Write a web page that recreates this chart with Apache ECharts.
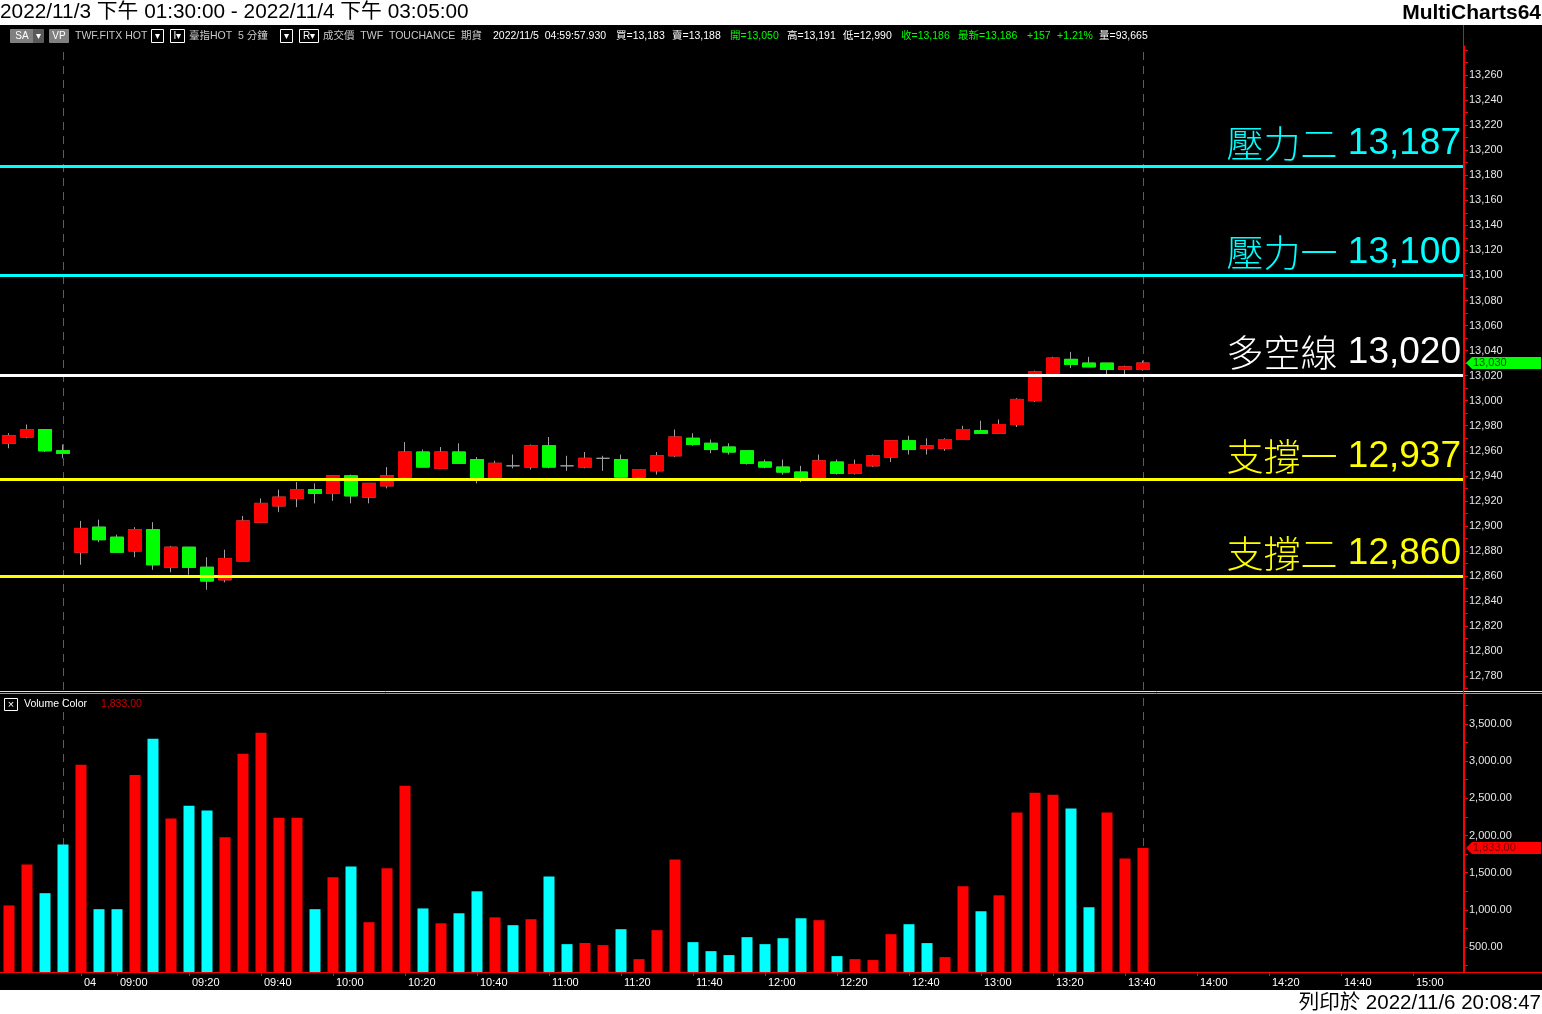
<!DOCTYPE html>
<html>
<head>
<meta charset="utf-8">
<script src="https://cdn.jsdelivr.net/npm/echarts@6/dist/echarts.min.js"></script>
<style>
html,body{margin:0;padding:0;background:#000;}
#c{width:1542px;height:1014px;}
</style>
</head>
<body>
<div id="c"></div>
<script>
// ---------------- DATA ----------------
// 5-minute bars, index = bar slot (0..3 : 2022/11/3 session end, 4.. : 2022/11/4)
const opens  = [12966,12971,12977,12960,12879,12899,12891,12880,12897,12867,12883,12867,12857,12872,12903,12916,12922,12929,12926,12940,12923,12932,12939,12959,12946,12959,12953,12938,12948,12947,12964,12948,12947,12954,12953,12939,12944,12956,12970,12966,12963,12960,12951,12947,12943,12937,12951,12942,12948,12955,12968,12962,12962,12969,12976,12974,12981,13000,13021,13033,13030,13030,13025,13025];
const closes = [12972,12977,12960,12958,12898,12889,12879,12897,12869,12883,12867,12856,12874,12904,12918,12923,12929,12926,12940,12924,12934,12940,12959,12947,12959,12950,12938,12950,12948,12964,12947,12948,12954,12954,12939,12945,12956,12971,12965,12961,12959,12950,12947,12943,12937,12952,12942,12949,12956,12968,12961,12964,12969,12977,12974,12981,13001,13023,13034,13029,13027,13025,13027,13030];
const lows   = [12962,12970,12959,12954,12869,12887,12879,12875,12865,12863,12861,12849,12855,12872,12903,12911,12915,12918,12920,12918,12918,12930,12938,12947,12946,12950,12934,12937,12946,12945,12946,12944,12946,12944,12937,12938,12941,12955,12964,12958,12957,12949,12946,12941,12935,12936,12941,12941,12947,12951,12957,12957,12960,12969,12974,12974,12979,12999,13021,13026,13027,13020,13020,13024];
const highs  = [12974,12981,12977,12965,12904,12905,12893,12899,12903,12884,12883,12875,12881,12908,12922,12929,12935,12934,12940,12941,12934,12947,12967,12961,12963,12966,12955,12952,12957,12965,12971,12956,12959,12956,12957,12945,12959,12977,12974,12969,12966,12960,12953,12953,12948,12957,12953,12953,12957,12968,12972,12970,12970,12980,12984,12985,13002,13024,13035,13039,13035,13030,13028,13032];
const volumes = [1060,1610,1225,1880,2950,1010,1010,2815,3300,2230,2400,2335,1975,3100,3380,2240,2240,1010,1440,1585,835,1560,2670,1020,820,955,1250,900,795,875,1450,540,555,527,741,339,728,1679,567,446,393,634,540,620,888,862,379,339,326,674,808,554,366,1317,982,1196,2308,2576,2549,2362,1036,2308,1692,1833];
// 1 = up volume (red), 0 = down volume (cyan)
const volumeUp = [1,1,0,0,1,0,0,1,0,1,0,0,1,1,1,1,1,0,1,0,1,1,1,0,1,0,0,1,0,1,0,0,1,1,0,1,1,1,0,0,0,0,0,0,0,1,0,1,1,1,0,0,1,1,0,1,1,1,1,0,0,1,1,1];
// session breaks (bar slot index)
const sessionBreaks = [3, 63];
// support / resistance levels
const levelNames  = ['壓力二','壓力一','多空線','支撐一','支撐二'];
const levelValues = [13187, 13100, 13020, 12937, 12860];
const levelKinds  = ['res','res','pivot','sup','sup'];
// axis ticks
const priceTicks  = [12780,12800,12820,12840,12860,12880,12900,12920,12940,12960,12980,13000,13020,13040,13060,13080,13100,13120,13140,13160,13180,13200,13220,13240,13260];
const volumeTicks = [500,1000,1500,2000,2500,3000,3500];
const timeTickSlots = [4,6,10,14,18,22,26,30,34,38,42,46,50,54,58,62,66,70,74,78];
const timeLabels = ['04','09:00','09:20','09:40','10:00','10:20','10:40','11:00','11:20','11:40','12:00','12:20','12:40','13:00','13:20','13:40','14:00','14:20','14:40','15:00'];
// texts
const titleText = '2022/11/3 下午 01:30:00 - 2022/11/4 下午 03:05:00';
const brandText = 'MultiCharts64';
const printText = '列印於 2022/11/6 20:08:47';
const volumeTitle = 'Volume Color';

// ---------------- CHART ----------------
const RED = '#ff0000', GREEN = '#00ff00', CYAN = '#00ffff', WICK = '#a0a0a0';
const NUM = '"Liberation Sans", Arial, sans-serif';
const CJK = '"Liberation Sans", "Noto Sans CJK TC", sans-serif';
const fmtInt = v => Math.round(v).toLocaleString('en-US');
const fmt2 = v => v.toLocaleString('en-US', {minimumFractionDigits: 2, maximumFractionDigits: 2});

const X_MIN = -0.5, X_MAX = -0.5 + 1464 / 18;
const P_MIN = 12768.2, P_MAX = 13283.2;
const V_MIN = 165.6, V_MAX = 3902;

const wickData = opens.map((o, i) => [i, o, closes[i], lows[i], highs[i]]);
const bodyData = opens.map((o, i) => [i, o, closes[i], Math.min(o, closes[i]), Math.max(o, closes[i])])
                      .filter(d => d[1] !== d[2]);
const volData = volumes.map((v, i) => ({value: [i, v], itemStyle: {color: volumeUp[i] ? RED : CYAN}}));

const levelColor = k => k === 'res' ? CYAN : (k === 'pivot' ? '#ffffff' : '#ffff00');
const levelLines = levelValues.map((v, i) => {
  const col = levelColor(levelKinds[i]);
  return {
    yAxis: v,
    lineStyle: {color: col, width: 3, type: 'solid'},
    label: {
      show: true, position: 'insideEndTop', distance: [3, 4],
      formatter: '{c|' + levelNames[i] + '}{n| ' + fmtInt(v) + '}',
      rich: {
        c: {color: col, fontSize: 37, fontWeight: 300, fontFamily: '"Noto Sans CJK TC", sans-serif'},
        n: {color: col, fontSize: 37, fontFamily: NUM}
      }
    }
  };
});
const breakLines = sessionBreaks.map(s => ({xAxis: s}));
const breakMark = {
  silent: true, symbol: ['none', 'none'], z: 1, animation: false,
  lineStyle: {color: '#5c5c5c', width: 1, type: [8, 6]},
  label: {show: false},
  data: breakLines
};

const priceMinor = [];
for (let v = 12770; v <= 13280; v += 10) priceMinor.push(v);
const volMinor = [];
for (let v = 250; v <= 3750; v += 250) volMinor.push(v);

const option = {
  backgroundColor: '#000',
  animation: false,
  grid: [
    {left: 0, top: 46, width: 1464, height: 644},
    {left: 0, top: 694, width: 1464, height: 278}
  ],
  xAxis: [
    {type: 'value', gridIndex: 0, min: X_MIN, max: X_MAX, show: false},
    {type: 'value', gridIndex: 1, min: X_MIN, max: X_MAX,
     axisLine: {show: true, onZero: false, lineStyle: {color: RED, width: 1}},
     axisTick: {show: true, customValues: timeTickSlots, length: 4, lineStyle: {color: RED}},
     axisLabel: {show: true, customValues: timeTickSlots,
       formatter: v => timeLabels[timeTickSlots.indexOf(Math.round(v))] || '',
       color: '#ffffff', fontSize: 11, fontFamily: NUM, align: 'left', margin: 5, padding: [0, 0, 0, 3]},
     splitLine: {show: false}}
  ],
  yAxis: [
    {type: 'value', gridIndex: 0, position: 'right', min: 12769, max: P_MAX,
     axisLine: {show: true, onZero: false, lineStyle: {color: RED}},
     axisTick: {show: true, customValues: priceMinor, length: 4, lineStyle: {color: RED}},
     axisLabel: {show: true, customValues: priceTicks, formatter: v => fmtInt(v),
       color: '#e6e6e6', fontSize: 11, fontFamily: NUM, margin: 5},
     splitLine: {show: false}},
    {type: 'value', gridIndex: 1, position: 'right', min: V_MIN, max: V_MAX,
     axisLine: {show: true, onZero: false, lineStyle: {color: RED}},
     axisTick: {show: true, customValues: volMinor, length: 4, lineStyle: {color: RED}},
     axisLabel: {show: true, customValues: volumeTicks, formatter: v => fmt2(v),
       color: '#e6e6e6', fontSize: 11, fontFamily: NUM, margin: 5},
     splitLine: {show: false}}
  ],
  series: [
    {type: 'scatter', xAxisIndex: 0, yAxisIndex: 0, data: [], z: 1, markLine: breakMark},
    {type: 'scatter', xAxisIndex: 1, yAxisIndex: 1, data: [], z: 1, markLine: breakMark},
    {type: 'candlestick', name: 'wick', xAxisIndex: 0, yAxisIndex: 0, barWidth: 13,
     encode: {x: 0, y: [1, 2, 3, 4]}, data: wickData,
     itemStyle: {color: WICK, color0: WICK, borderColor: WICK, borderColor0: WICK, borderWidth: 1}},
    {type: 'candlestick', name: 'body', xAxisIndex: 0, yAxisIndex: 0, barWidth: 13,
     encode: {x: 0, y: [1, 2, 3, 4]}, data: bodyData,
     itemStyle: {color: RED, color0: GREEN, borderColor: RED, borderColor0: GREEN, borderWidth: 1},
     markLine: {silent: true, symbol: ['none', 'none'], z: 5, animation: false, data: levelLines}},
    {type: 'bar', name: 'volume', xAxisIndex: 1, yAxisIndex: 1, barWidth: 11, clip: true,
     data: volData}
  ]
};

const chart = echarts.init(document.getElementById('c'), null, {renderer: 'canvas'});
chart.setOption(option);

// ------------- decorations / texts -------------
const g = [];
g.push({type: 'rect', shape: {x: 0, y: 0, width: 1542, height: 25}, style: {fill: '#ffffff'}, z: 10});
g.push({type: 'rect', shape: {x: 0, y: 990, width: 1542, height: 24}, style: {fill: '#ffffff'}, z: 10});
g.push({type: 'text', x: 0, y: 12.5, z: 11, style: {text: titleText, fill: '#000', font: '20.8px ' + CJK, textVerticalAlign: 'middle'}});
g.push({type: 'text', x: 1541, y: 13, z: 11, style: {text: brandText, fill: '#000', font: 'bold 21px ' + NUM, textAlign: 'right', textVerticalAlign: 'middle'}});
g.push({type: 'text', x: 1541, y: 1003, z: 11, style: {text: printText, fill: '#000', font: '20.5px ' + CJK, textAlign: 'right', textVerticalAlign: 'middle'}});

// header bar
const HY = 36;
const boxes = [
  {x: 10, w: 23, t: 'SA', fill: '#808080'}, {x: 33, w: 10, t: '▾', fill: '#5a5a5a'},
  {x: 49, w: 19, t: 'VP', fill: '#808080'},
  {x: 151, w: 12, t: '▾', stroke: '#ffffff'}, {x: 170, w: 14, t: 'I▾', stroke: '#ffffff'},
  {x: 280, w: 12, t: '▾', stroke: '#ffffff'}, {x: 299, w: 19, t: 'R▾', stroke: '#ffffff'}
];
boxes.forEach(b => {
  g.push({type: 'rect', z: 11, shape: {x: b.x + 0.5, y: 29.5, width: b.w, height: 13},
          style: {fill: b.fill || '#000', stroke: b.stroke || b.fill, lineWidth: 1}});
  g.push({type: 'text', z: 12, x: b.x + b.w / 2 + 0.5, y: HY, style: {text: b.t, fill: '#ffffff', font: '10px ' + CJK, textAlign: 'center', textVerticalAlign: 'middle'}});
});
const headerItems = [
  {x: 75, t: 'TWF.FITX HOT', c: '#c8c8c8'},
  {x: 189, t: '臺指HOT  5 分鐘', c: '#c8c8c8'},
  {x: 323, t: '成交價  TWF  TOUCHANCE  期貨', c: '#c8c8c8'},
  {x: 493, t: '2022/11/5  04:59:57.930', c: '#ffffff'},
  {x: 616, t: '買=13,183', c: '#ffffff'},
  {x: 672, t: '賣=13,188', c: '#ffffff'},
  {x: 730, t: '開=13,050', c: GREEN},
  {x: 787, t: '高=13,191', c: '#ffffff'},
  {x: 843, t: '低=12,990', c: '#ffffff'},
  {x: 901, t: '收=13,186', c: GREEN},
  {x: 958, t: '最新=13,186', c: GREEN},
  {x: 1027, t: '+157', c: GREEN},
  {x: 1057, t: '+1.21%', c: GREEN},
  {x: 1099, t: '量=93,665', c: '#ffffff'}
];
headerItems.forEach(h => g.push({type: 'text', z: 11, x: h.x, y: HY, style: {text: h.t, fill: h.c, font: '10.5px ' + CJK, textVerticalAlign: 'middle'}}));

// pane separator
g.push({type: 'line', z: 11, shape: {x1: 0, y1: 691.5, x2: 1542, y2: 691.5}, style: {stroke: '#e0e0e0', lineWidth: 1}});
g.push({type: 'line', z: 11, shape: {x1: 0, y1: 693.5, x2: 1542, y2: 693.5}, style: {stroke: '#9a9a9a', lineWidth: 1}});
// axis frame lines
g.push({type: 'line', z: 11, shape: {x1: 1463.5, y1: 25, x2: 1463.5, y2: 973}, style: {stroke: RED, lineWidth: 1}});
g.push({type: 'line', z: 11, shape: {x1: 1464, y1: 972.5, x2: 1542, y2: 972.5}, style: {stroke: RED, lineWidth: 1}});

// volume pane title
g.push({type: 'rect', z: 11, shape: {x: 4.5, y: 698.5, width: 13, height: 12}, style: {fill: '#000', stroke: '#ffffff', lineWidth: 1}});
g.push({type: 'text', z: 12, x: 11, y: 704.5, style: {text: '×', fill: '#ffffff', font: '11px ' + NUM, textAlign: 'center', textVerticalAlign: 'middle'}});
g.push({type: 'text', z: 11, x: 24, y: 704.5, style: {text: volumeTitle, fill: '#ffffff', font: '10.5px ' + NUM, textVerticalAlign: 'middle'}});
g.push({type: 'text', z: 11, x: 101, y: 704.5, style: {text: fmt2(volumes[volumes.length - 1]), fill: '#cc0000', font: '10.5px ' + NUM, textVerticalAlign: 'middle'}});

// last value markers on axes
const lastClose = closes[closes.length - 1];
const lastVol = volumes[volumes.length - 1];
const yP = chart.convertToPixel({yAxisIndex: 0}, lastClose);
const yV = chart.convertToPixel({yAxisIndex: 1}, lastVol);
function marker(y, fill, txt, tcol) {
  g.push({type: 'polygon', z: 13, shape: {points: [[1466, y], [1472, y - 6], [1541, y - 6], [1541, y + 6], [1472, y + 6]]}, style: {fill: fill}});
  g.push({type: 'text', z: 14, x: 1473, y: y, style: {text: txt, fill: tcol, font: '11px ' + NUM, textVerticalAlign: 'middle'}});
}
marker(yP, GREEN, fmtInt(lastClose), '#005000');
marker(yV, RED, fmt2(lastVol), '#7a0000');

chart.setOption({graphic: {elements: g}});
</script>
</body>
</html>
